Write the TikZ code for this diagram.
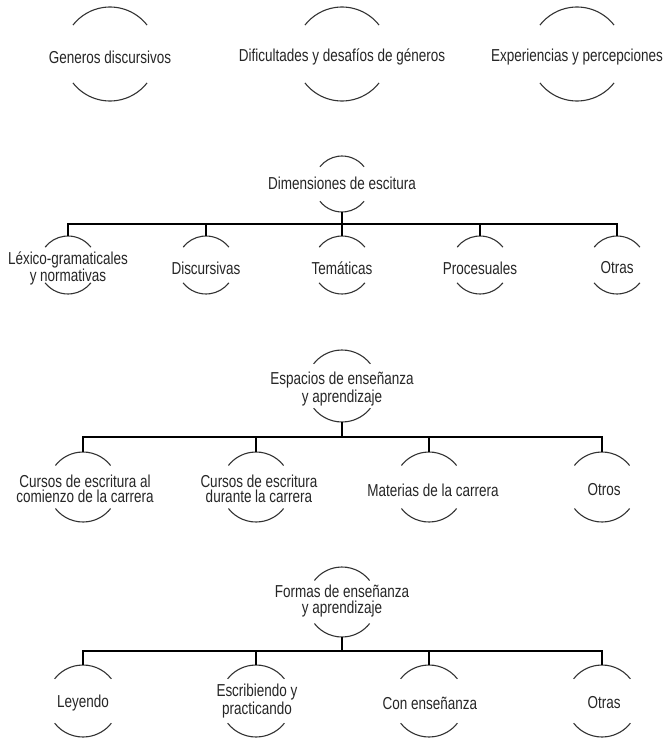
\documentclass[tikz,border=0pt]{standalone}
\usepackage{fontspec}
\setmainfont{Liberation Sans}[FakeStretch=0.78]
\usetikzlibrary{calc}
\newcommand\ringarcs[2]{\draw[arcline] (#1.38) arc[start angle=38,end angle=142,radius=#2] (#1.218) arc[start angle=218,end angle=322,radius=#2];}
\tikzset{
  x=1pt, y=1pt,
  ring/.style={circle, draw=none, inner sep=0pt, outer sep=0pt, minimum size=#1},
  txt/.style={inner sep=0pt, align=center, font=\fontsize{17.3}{15.5}\selectfont, text=black!85},
  arcline/.style={line width=1.1pt, draw=black!80},
  conn/.style={line width=1.4pt, draw=black}
}
\begin{document}
\begin{tikzpicture}
\useasboundingbox[fill=white] (0,0) rectangle (669,-739);

% ---- Section 1
\node[ring=94pt] (A) at (110,-54) {};
\node[ring=94pt] (B) at (342,-54) {};
\node[ring=94pt] (C) at (577,-54) {};
\ringarcs{A}{47pt}\ringarcs{B}{47pt}\ringarcs{C}{47pt}
\node[txt] (At) at (110,-57) {Generos discursivos};
\node[txt] (Bt) at (342,-57) {Dificultades y desafíos de géneros};
\node[txt] (Ct) at (577,-57) {Experiencias y percepciones};

% ---- Section 2
\node[ring=56pt] (D) at (342,-184) {};
\ringarcs{D}{28pt}
\node[txt] (Dt) at (342,-183) {Dimensiones de escitura};
\coordinate (barD) at (0,-224);
\foreach \n/\x in {d1/68,d2/206,d3/342,d4/480,d5/617}{
  \node[ring=58pt] (\n) at (\x,-265) {};
  \ringarcs{\n}{29pt}
  \draw[conn] (D.south) -- (D.south |- barD) -| (\n.north);
}
\node[txt] (d1t) at (68,-268) {Léxico-gramaticales\\y normativas};
\node[txt] (d2t) at (206,-268) {Discursivas};
\node[txt] (d3t) at (342,-268) {Temáticas};
\node[txt] (d4t) at (480,-268) {Procesuales};
\node[txt] (d5t) at (617,-268) {Otras};

% ---- Section 3
\node[ring=72pt] (E) at (342,-386) {};
\ringarcs{E}{36pt}
\node[txt] (Et) at (342,-389) {Espacios de enseñanza\\y aprendizaje};
\coordinate (barE) at (0,-437);
\foreach \n/\x in {e1/83,e2/256,e3/429,e4/602}{
  \node[ring=70pt] (\n) at (\x,-487) {};
  \ringarcs{\n}{35pt}
  \draw[conn] (E.south) -- (E.south |- barE) -| (\n.north);
}
\node[txt] (e1t) at (85,-489) {Cursos de escritura al\\comienzo de la carrera};
\node[txt] (e2t) at (259,-489) {Cursos de escritura\\durante la carrera};
\node[txt] (e3t) at (433,-490) {Materias de la carrera};
\node[txt] (e4t) at (604,-490) {Otros};

% ---- Section 4
\node[ring=70pt] (F) at (342,-602) {};
\ringarcs{F}{35pt}
\node[txt] (Ft) at (342,-601) {Formas de enseñanza\\y aprendizaje};
\coordinate (barF) at (0,-651);
\foreach \n/\x in {f1/83,f2/256,f3/429,f4/602}{
  \node[ring=72pt] (\n) at (\x,-701) {};
  \ringarcs{\n}{36pt}
  \draw[conn] (F.south) -- (F.south |- barF) -| (\n.north);
}
\node[txt] (f1t) at (83,-703) {Leyendo};
\node[txt] (f2t) at (257,-701) {Escribiendo y\\practicando};
\node[txt] (f3t) at (430,-703) {Con enseñanza};
\node[txt] (f4t) at (604,-703) {Otras};
\end{tikzpicture}
\end{document}
